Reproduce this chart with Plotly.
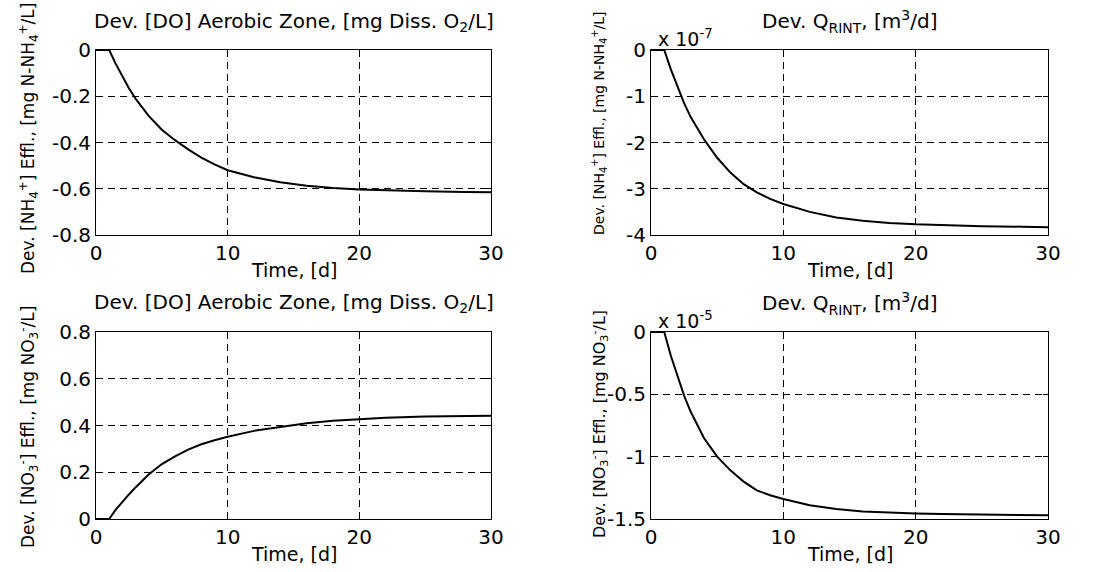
import plotly.graph_objects as go

# ---- data ----
t = [0, 1, 1.5, 2, 2.5, 3, 4, 5, 6, 7, 8, 9, 10, 12, 14, 16, 18, 20, 22, 25, 28, 30]

# Top-left: Dev. [NH4+] vs Dev. [DO]  (mg N-NH4+/L)
nh4_do = [0, 0, -0.06, -0.115, -0.165, -0.21, -0.285, -0.345, -0.39, -0.43, -0.465,
          -0.495, -0.52, -0.55, -0.572, -0.587, -0.597, -0.603, -0.607, -0.611, -0.614, -0.615]
# Top-right: Dev. [NH4+] vs Dev. Q_RINT  (x 1e-7)
nh4_q = [0, 0, -0.42, -0.8, -1.15, -1.45, -1.93, -2.33, -2.65, -2.9, -3.08,
         -3.22, -3.33, -3.5, -3.62, -3.69, -3.74, -3.77, -3.79, -3.81, -3.82, -3.83]
nh4_q_scale = 1e-7
# Bottom-left: Dev. [NO3-] vs Dev. [DO]  (mg NO3-/L)
no3_do = [0, 0, 0.04, 0.075, 0.105, 0.135, 0.19, 0.235, 0.268, 0.297, 0.32,
          0.337, 0.352, 0.377, 0.395, 0.41, 0.42, 0.428, 0.433, 0.438, 0.441, 0.442]
# Bottom-right: Dev. [NO3-] vs Dev. Q_RINT  (x 1e-5)
no3_q = [0, 0, -0.19, -0.35, -0.51, -0.64, -0.85, -1.0, -1.11, -1.2, -1.27,
         -1.31, -1.34, -1.39, -1.42, -1.44, -1.45, -1.455, -1.46, -1.465, -1.468, -1.47]
no3_q_scale = 1e-5

x_ticks = [0, 10, 20, 30]
y1_ticks = [0, -0.2, -0.4, -0.6, -0.8]
y1_text = ["0", "-0.2", "-0.4", "-0.6", "-0.8"]
y2_ticks = [0, -1, -2, -3, -4]
y2_text = ["0", "-1", "-2", "-3", "-4"]
y3_ticks = [0, 0.2, 0.4, 0.6, 0.8]
y3_text = ["0", "0.2", "0.4", "0.6", "0.8"]
y4_ticks = [0, -0.5, -1, -1.5]
y4_text = ["0", "-0.5", "-1", "-1.5"]

title_do = "Dev. [DO] Aerobic Zone, [mg Diss. O<sub>2</sub>/L]"
title_q = "Dev. Q<sub>RINT</sub>, [m<sup>3</sup>/d]"
ylab_nh4 = "Dev. [NH<sub>4</sub><sup>+</sup>] Effl., [mg N-NH<sub>4</sub><sup>+</sup>/L]"
ylab_no3 = "Dev. [NO<sub>3</sub><sup>-</sup>] Effl., [mg NO<sub>3</sub><sup>-</sup>/L]"
xlab = "Time, [d]"

W, H = 1098, 572
FONT = "DejaVu Sans"

def px(x):
    return x / W

def py(y):
    return 1 - y / H

fig = go.Figure()
line = dict(color="black", width=2)
fig.add_trace(go.Scatter(x=t, y=nh4_do, mode="lines", line=line, xaxis="x", yaxis="y"))
fig.add_trace(go.Scatter(x=t, y=[v * nh4_q_scale for v in nh4_q], mode="lines", line=line, xaxis="x2", yaxis="y2"))
fig.add_trace(go.Scatter(x=t, y=no3_do, mode="lines", line=line, xaxis="x3", yaxis="y3"))
fig.add_trace(go.Scatter(x=t, y=[v * no3_q_scale for v in no3_q], mode="lines", line=line, xaxis="x4", yaxis="y4"))

common = dict(showline=True, linecolor="black", linewidth=1, mirror="ticks",
              ticks="inside", ticklen=5, tickcolor="black", showgrid=True,
              gridcolor="black", gridwidth=1, griddash="7px,5px", zeroline=False,
              automargin=False,
              tickfont=dict(family=FONT, size=20, color="black"))

L1, R1 = 96, 491
L2, R2 = 651, 1048
T1, B1 = 50, 235
T2, B2 = 332, 519

def xa(l, r, anchor):
    return dict(common, domain=[px(l), px(r)], range=[0, 30], tickvals=x_ticks,
                ticktext=[str(v) for v in x_ticks], anchor=anchor)

def ya(t_, b_, rng, vals, text, anchor):
    return dict(common, domain=[py(b_), py(t_)], range=rng, tickvals=vals,
                ticktext=text, anchor=anchor)

fig.update_layout(
    width=W, height=H, autosize=False,
    margin=dict(l=0, r=0, t=0, b=0, pad=0, autoexpand=False),
    paper_bgcolor="white", plot_bgcolor="white", showlegend=False,
    font=dict(family=FONT, color="black"),
    xaxis=xa(L1, R1, "y"), yaxis=ya(T1, B1, [-0.8, 0], y1_ticks, y1_text, "x"),
    xaxis2=xa(L2, R2, "y2"),
    yaxis2=ya(T1, B1, [-4 * nh4_q_scale, 0], [v * nh4_q_scale for v in y2_ticks], y2_text, "x2"),
    xaxis3=xa(L1, R1, "y3"), yaxis3=ya(T2, B2, [0, 0.8], y3_ticks, y3_text, "x3"),
    xaxis4=xa(L2, R2, "y4"),
    yaxis4=ya(T2, B2, [-1.5 * no3_q_scale, 0], [v * no3_q_scale for v in y4_ticks], y4_text, "x4"),
)

ann = []
def add(text, x, y, size, angle=0, xanchor="center", yanchor="middle"):
    ann.append(dict(text=text, x=px(x), y=py(y), xref="paper", yref="paper",
                    showarrow=False, textangle=angle, xanchor=xanchor, yanchor=yanchor,
                    font=dict(family=FONT, size=size, color="black")))

# titles
add(title_do, (L1 + R1) / 2, 22, 20)
add(title_q, (L2 + R2) / 2, 22, 20)
add(title_do, (L1 + R1) / 2, 303, 20)
add(title_q, (L2 + R2) / 2, 303, 20)
# x labels
add(xlab, (L1 + R1) / 2, 270, 19)
add(xlab, (L2 + R2) / 2, 270, 19)
add(xlab, (L1 + R1) / 2, 554, 19)
add(xlab, (L2 + R2) / 2, 554, 19)
# y labels
add(ylab_nh4, 28, 139, 17, angle=-90)
add(ylab_nh4, 599, 124, 14, angle=-90)
add(ylab_no3, 28, 427, 17, angle=-90)
add(ylab_no3, 599, 424, 16, angle=-90)
# exponent labels
add("x 10<sup>-7</sup>", 656, 38, 19, xanchor="left")
add("x 10<sup>-5</sup>", 656, 320, 19, xanchor="left")

fig.update_layout(annotations=ann)
fig.write_html("out.html")
